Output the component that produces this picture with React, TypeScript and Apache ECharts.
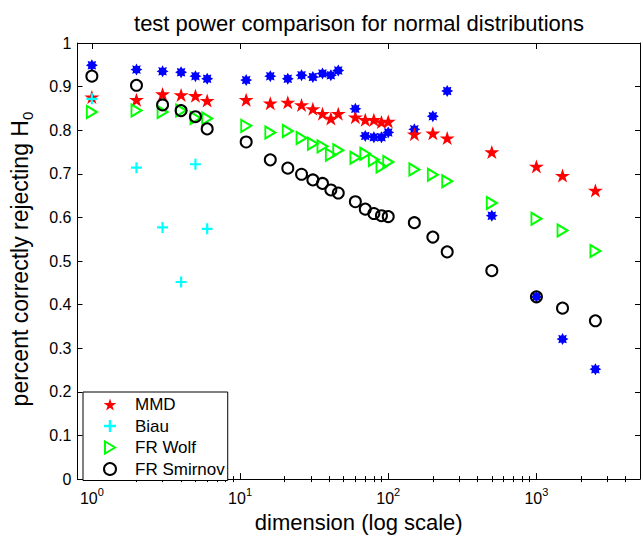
import React, { useEffect, useRef } from 'react';
import * as echarts from 'echarts';

// dimensions at which MMD / FR Wolf / FR Smirnov / extra (blue) tests were run
const dims = [1, 2, 3, 4, 5, 6, 11, 16, 21, 26, 31, 36, 41, 46, 60, 70, 80, 90, 100, 150, 200, 250, 500, 1000, 1500, 2500];
const mmd = [0.876, 0.870, 0.883, 0.881, 0.879, 0.868, 0.870, 0.862, 0.864, 0.858, 0.849, 0.838, 0.827, 0.838, 0.830, 0.824, 0.824, 0.819, 0.820, 0.791, 0.793, 0.782, 0.750, 0.717, 0.696, 0.662];
const frWolf = [0.842, 0.845, 0.842, 0.845, 0.828, 0.827, 0.810, 0.795, 0.798, 0.782, 0.769, 0.763, 0.744, 0.754, 0.737, 0.746, 0.732, 0.717, 0.727, 0.710, 0.698, 0.683, 0.633, 0.597, 0.570, 0.523];
const frSmirnov = [0.924, 0.903, 0.858, 0.845, 0.831, 0.803, 0.773, 0.732, 0.713, 0.699, 0.686, 0.678, 0.663, 0.656, 0.636, 0.619, 0.609, 0.604, 0.602, 0.588, 0.555, 0.521, 0.478, 0.418, 0.392, 0.363];
const blueStars = [0.949, 0.939, 0.935, 0.933, 0.924, 0.918, 0.915, 0.924, 0.918, 0.926, 0.922, 0.930, 0.926, 0.937, 0.849, 0.787, 0.784, 0.784, 0.795, 0.802, 0.832, 0.890, 0.604, 0.418, 0.321, 0.252];

const biauDims = [1, 2, 3, 4, 5, 6];
const biau = [0.872, 0.714, 0.577, 0.452, 0.722, 0.574];

const xMajorTicks = [1, 10, 100, 1000];
const xMinorTicks = [2, 3, 4, 5, 6, 7, 8, 9, 20, 30, 40, 50, 60, 70, 80, 90, 200, 300, 400, 500, 600, 700, 800, 900, 2000, 3000, 4000];

const legendNames = ['MMD', 'Biau', 'FR Wolf', 'FR Smirnov'];

function starPath(n: number, R: number, r: number, start: number): string {
  let s = '';
  for (let k = 0; k < 2 * n; k++) {
    const a = start + (k * Math.PI) / n;
    const rad = k % 2 === 0 ? R : r;
    const x = R + rad * Math.cos(a);
    const y = R + rad * Math.sin(a);
    s += (k === 0 ? 'M' : 'L') + x.toFixed(2) + ',' + y.toFixed(2);
  }
  return 'path://' + s + 'Z';
}

const STAR = starPath(5, 10, 3.82, -Math.PI / 2);
const ASTER = starPath(8, 10, 6.2, 0);
const PLUS = 'path://M4,0L6,0L6,4L10,4L10,6L6,6L6,10L4,10L4,6L0,6L0,4L4,4Z';
const TRI = 'path://M0,0L10,6L0,12Z';
const RING = 'path://M10,0A10,10 0 1 1 9.99,0Z';

const FONT = '"Liberation Sans", Arial, Helvetica, sans-serif';

export default function App() {
  const ref = useRef<HTMLDivElement>(null);
  useEffect(() => {
    if (!ref.current) return;
    const chart = echarts.init(ref.current, null, { renderer: 'svg' });
    const xRange = { type: 'log' as const, logBase: 10, min: 0.8, max: 5000 };
    const xLabelFmt = (v: number) => {
      const e = Math.round(Math.log10(v));
      if (Math.abs(v - Math.pow(10, e)) > 1e-6 * v) return '';
      return '{b|10}{s|' + e + '}';
    };
    const option: any = {
      animation: false,
      textStyle: { fontFamily: FONT },
      title: {
        text: 'test power comparison for normal distributions',
        left: 354,
        textAlign: 'center',
        top: 7,
        textStyle: { fontSize: 22, fontWeight: 'normal', color: '#000', fontFamily: FONT },
      },
      grid: { left: 77, right: 3, top: 43, bottom: 50 },
      legend: {
        orient: 'vertical',
        left: 83,
        top: 392,
        padding: [4, 3, 3, 20],
        itemWidth: 40,
        itemHeight: 12,
        itemGap: 4.5,
        backgroundColor: '#fff',
        borderColor: '#000',
        borderWidth: 1,
        borderRadius: 0,
        textStyle: { fontSize: 17, color: '#000', fontFamily: FONT },
        data: [
          { name: legendNames[0], icon: STAR },
          { name: legendNames[1], icon: PLUS },
          { name: legendNames[2], icon: TRI },
          { name: legendNames[3], icon: 'circle' },
        ],
      },
      xAxis: [
        {
          ...xRange,
          position: 'bottom',
          name: 'dimension (log scale)',
          nameLocation: 'middle',
          nameGap: 22,
          nameTextStyle: { fontSize: 22, color: '#000', fontFamily: FONT },
          axisLine: { show: true, onZero: false, lineStyle: { color: '#000', width: 1 } },
          axisTick: { show: true, inside: true, length: 6, customValues: xMajorTicks, lineStyle: { color: '#000' } },
          axisLabel: {
            show: true,
            customValues: xMajorTicks,
            margin: 7,
            formatter: xLabelFmt,
            rich: {
              b: { fontSize: 16, lineHeight: 24, color: '#000', fontFamily: FONT },
              s: { fontSize: 11, lineHeight: 11, verticalAlign: 'top', color: '#000', fontFamily: FONT },
            },
          },
          splitLine: { show: false },
        },
        {
          ...xRange,
          position: 'bottom',
          axisLine: { show: false },
          axisTick: { show: true, inside: true, length: 3, customValues: xMinorTicks, lineStyle: { color: '#000' } },
          axisLabel: { show: false },
          splitLine: { show: false },
        },
        {
          ...xRange,
          position: 'top',
          axisLine: { show: true, onZero: false, lineStyle: { color: '#000', width: 1 } },
          axisTick: { show: true, inside: true, length: 6, customValues: xMajorTicks, lineStyle: { color: '#000' } },
          axisLabel: { show: false },
          splitLine: { show: false },
        },
        {
          ...xRange,
          position: 'top',
          axisLine: { show: false },
          axisTick: { show: true, inside: true, length: 3, customValues: xMinorTicks, lineStyle: { color: '#000' } },
          axisLabel: { show: false },
          splitLine: { show: false },
        },
      ],
      yAxis: [
        {
          type: 'value',
          min: 0,
          max: 1,
          interval: 0.1,
          position: 'left',
          name: '{a|percent correctly rejecting H}{s|0}',
          nameLocation: 'middle',
          nameGap: 43,
          nameTextStyle: {
            padding: [0, 0, 0, 4],
            rich: {
              a: { fontSize: 23, lineHeight: 30, color: '#000', fontFamily: FONT },
              s: { fontSize: 15, lineHeight: 15, verticalAlign: 'bottom', color: '#000', fontFamily: FONT },
            },
          },
          axisLine: { show: true, onZero: false, lineStyle: { color: '#000', width: 1 } },
          axisTick: { show: true, inside: true, length: 5, lineStyle: { color: '#000' } },
          axisLabel: {
            color: '#000',
            fontSize: 16,
            margin: 6,
            fontFamily: FONT,
            formatter: (v: number) => (v === 0 ? '0' : v === 1 ? '1' : v.toFixed(1)),
          },
          splitLine: { show: false },
        },
        {
          type: 'value',
          min: 0,
          max: 1,
          interval: 0.1,
          position: 'right',
          axisLine: { show: true, onZero: false, lineStyle: { color: '#000', width: 1 } },
          axisTick: { show: true, inside: true, length: 5, lineStyle: { color: '#000' } },
          axisLabel: { show: false },
          splitLine: { show: false },
        },
      ],
      series: [
        {
          name: 'extra',
          type: 'scatter',
          symbol: ASTER,
          symbolSize: 12,
          itemStyle: { color: '#0000ff', opacity: 1 },
          data: dims.map((d, i) => [d, blueStars[i]]),
          emphasis: { disabled: true },
        },
        {
          name: legendNames[0],
          type: 'scatter',
          symbol: STAR,
          symbolSize: [15, 14],
          itemStyle: { color: '#ff0000', opacity: 1 },
          data: dims.map((d, i) => [d, mmd[i]]),
          emphasis: { disabled: true },
        },
        {
          name: legendNames[1],
          type: 'scatter',
          symbol: PLUS,
          symbolSize: 11,
          itemStyle: { color: '#00ffff', opacity: 1 },
          data: biauDims.map((d, i) => [d, biau[i]]),
          emphasis: { disabled: true },
        },
        {
          name: legendNames[2],
          type: 'scatter',
          symbol: TRI,
          symbolSize: [10, 12],
          itemStyle: { color: 'transparent', borderColor: '#00ff00', borderWidth: 2, opacity: 1 },
          data: dims.map((d, i) => [d, frWolf[i]]),
          emphasis: { disabled: true },
        },
        {
          name: legendNames[3],
          type: 'scatter',
          symbol: 'circle',
          symbolSize: 11,
          itemStyle: { color: 'transparent', borderColor: '#000000', borderWidth: 2, opacity: 1 },
          data: dims.map((d, i) => [d, frSmirnov[i]]),
          emphasis: { disabled: true },
        },
      ],
    };
    chart.setOption(option);
    return () => chart.dispose();
  }, []);
  return (
    <div
      ref={ref}
      style={{ position: 'absolute', left: 0, top: 0, width: 643, height: 538, background: '#fff' }}
    />
  );
}
